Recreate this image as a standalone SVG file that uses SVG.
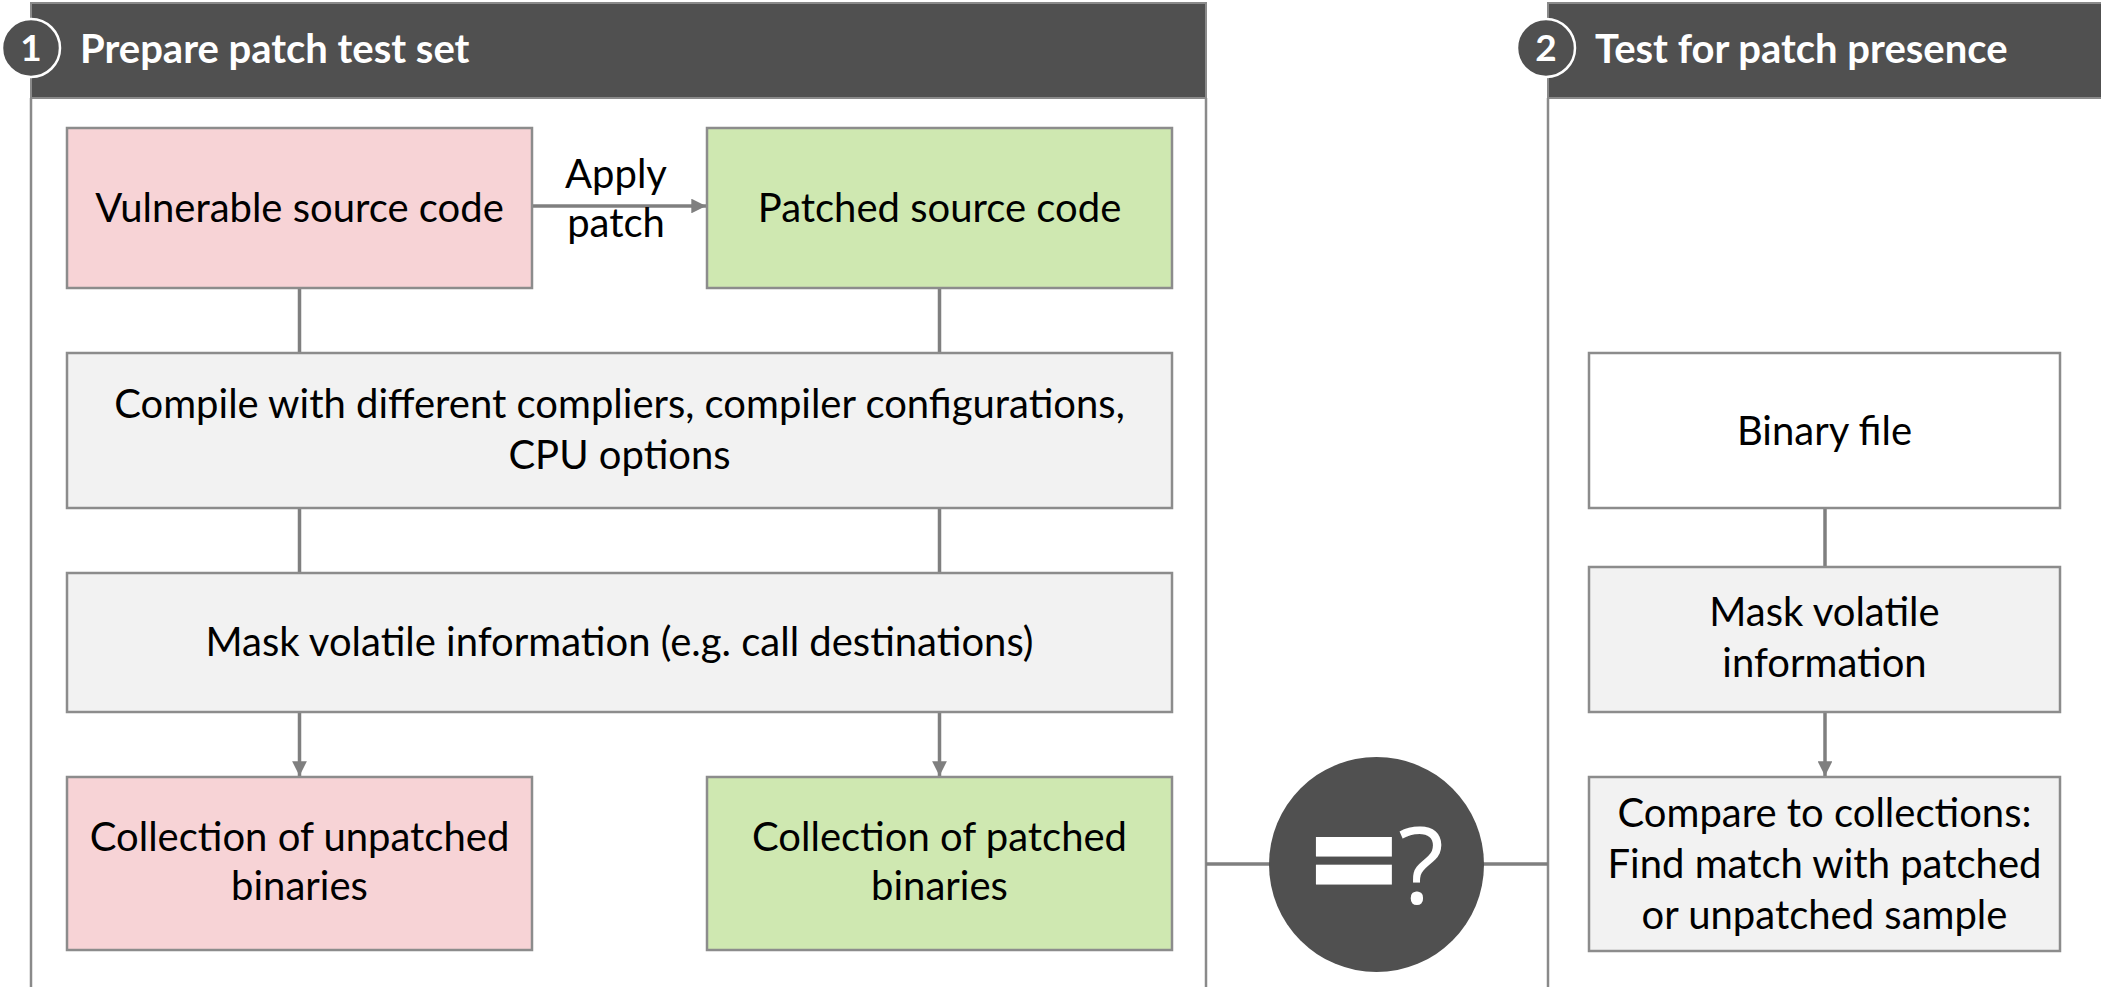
<svg xmlns="http://www.w3.org/2000/svg" width="2101" height="987" viewBox="0 0 2101 987">
<defs>
<style>
.hdr{fill:#505050;stroke:#8a8a8a;stroke-width:2}
.pl{stroke:#8a8a8a;stroke-width:2.5;fill:none}
.box{stroke:#8c8c8c;stroke-width:2.5}
.pink{fill:#f7d3d6}
.green{fill:#cfe8b1}
.grey{fill:#f2f2f2}
.white{fill:#ffffff}
.t{font-family:Lato,"Liberation Sans",sans-serif;font-size:40px;fill:#000;text-anchor:middle}
.title{font-family:Lato,"Liberation Sans",sans-serif;font-size:40px;font-weight:bold;fill:#fff}
.num{font-family:Lato,"Liberation Sans",sans-serif;font-size:37px;font-weight:bold;fill:#fff;text-anchor:middle}
.badge{fill:#505050;stroke:#fff;stroke-width:2.5}
.conn{stroke:#7f7f7f;stroke-width:3.5;fill:none}
</style>
<marker id="arr" viewBox="0 0 10 10" refX="10" refY="5" markerWidth="4.2" markerHeight="4.2" markerUnits="strokeWidth" orient="auto">
<path d="M0,0 L10,5 L0,10 z" fill="#7f7f7f"/>
</marker>
</defs>
<rect width="2101" height="987" fill="#fff"/>

<g id="panel1">
<rect class="hdr" x="31" y="3" width="1175" height="95"/>
<line class="pl" x1="31" y1="98" x2="31" y2="987"/>
<line class="pl" x1="1206" y1="98" x2="1206" y2="987"/>
<circle class="badge" cx="31" cy="48" r="29"/>
<text class="num" x="31" y="61">1</text>
<text class="title" x="80" y="63">Prepare patch test set</text>
</g>

<g id="panel2">
<rect class="hdr" x="1548" y="3" width="560" height="95"/>
<line class="pl" x1="1548" y1="98" x2="1548" y2="987"/>
<circle class="badge" cx="1546" cy="48" r="29"/>
<text class="num" x="1546" y="61">2</text>
<text class="title" x="1595" y="63">Test for patch presence</text>
</g>

<g id="connectors">
<line class="conn" x1="532" y1="206" x2="706" y2="206" marker-end="url(#arr)"/>
<line class="conn" x1="299.5" y1="288" x2="299.5" y2="353"/>
<line class="conn" x1="939.5" y1="288" x2="939.5" y2="353"/>
<line class="conn" x1="299.5" y1="508" x2="299.5" y2="573"/>
<line class="conn" x1="939.5" y1="508" x2="939.5" y2="573"/>
<line class="conn" x1="299.5" y1="712" x2="299.5" y2="776" marker-end="url(#arr)"/>
<line class="conn" x1="939.5" y1="712" x2="939.5" y2="776" marker-end="url(#arr)"/>
<line class="conn" x1="1825" y1="508" x2="1825" y2="567"/>
<line class="conn" x1="1825" y1="712" x2="1825" y2="776" marker-end="url(#arr)"/>
<line class="conn" x1="1206" y1="864" x2="1548" y2="864"/>
</g>
<text class="t" x="616" y="188">Apply</text>
<text class="t" x="616" y="237">patch</text>

<g id="vulnerable">
<rect class="box pink" x="67" y="128" width="465" height="160"/>
<text class="t" x="299.5" y="222">Vulnerable source code</text>
</g>
<g id="patched">
<rect class="box green" x="707" y="128" width="465" height="160"/>
<text class="t" x="939.5" y="222">Patched source code</text>
</g>
<g id="compile">
<rect class="box grey" x="67" y="353" width="1105" height="155"/>
<text class="t" x="619.5" y="418">Compile with different compliers, compiler configurations,</text>
<text class="t" x="619.5" y="469">CPU options</text>
</g>
<g id="mask1">
<rect class="box grey" x="67" y="573" width="1105" height="139"/>
<text class="t" x="619.5" y="656">Mask volatile information (e.g. call destinations)</text>
</g>
<g id="unpatched">
<rect class="box pink" x="67" y="777" width="465" height="173"/>
<text class="t" x="299.5" y="851">Collection of unpatched</text>
<text class="t" x="299.5" y="900">binaries</text>
</g>
<g id="patchedcol">
<rect class="box green" x="707" y="777" width="465" height="173"/>
<text class="t" x="939.5" y="851">Collection of patched</text>
<text class="t" x="939.5" y="900">binaries</text>
</g>
<g id="binary">
<rect class="box white" x="1589" y="353" width="471" height="155"/>
<text class="t" x="1824.5" y="445">Binary file</text>
</g>
<g id="mask2">
<rect class="box grey" x="1589" y="567" width="471" height="145"/>
<text class="t" x="1824.5" y="626">Mask volatile</text>
<text class="t" x="1824.5" y="677">information</text>
</g>
<g id="compare">
<rect class="box grey" x="1589" y="777" width="471" height="174"/>
<text class="t" x="1824.5" y="827">Compare to collections:</text>
<text class="t" x="1824.5" y="878">Find match with patched</text>
<text class="t" x="1824.5" y="929">or unpatched sample</text>
</g>
<g id="equals">
<circle cx="1376.5" cy="864.5" r="107.5" fill="#505050"/>
<text x="1354" y="914" font-family="Lato,'Liberation Sans',sans-serif" font-size="160" font-weight="bold" fill="#fff" stroke="#fff" stroke-width="5" text-anchor="middle">=</text>
<text x="1398" y="904" font-family="'Open Sans',sans-serif" font-size="107" fill="#fff">?</text>
</g>
</svg>
